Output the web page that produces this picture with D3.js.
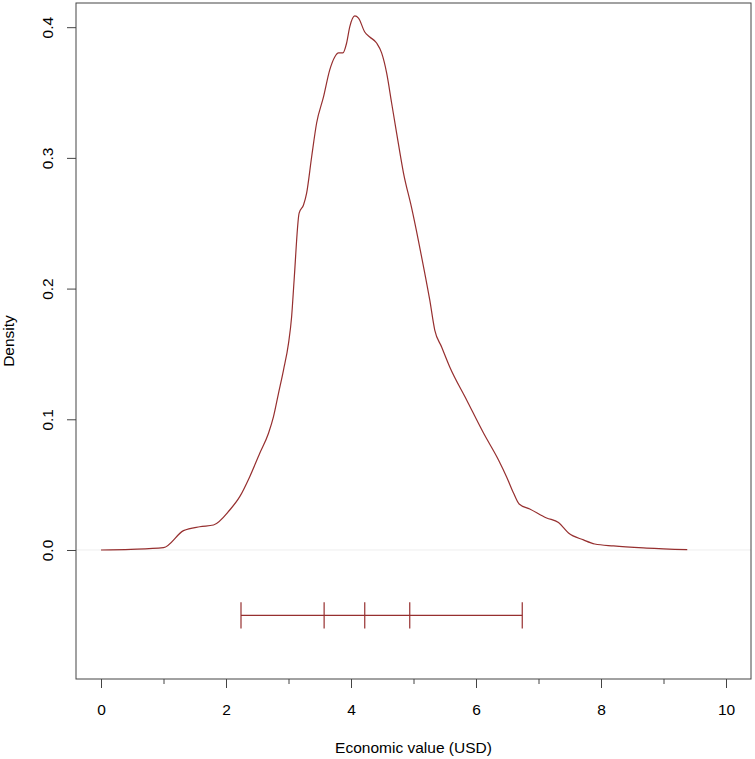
<!DOCTYPE html>
<html>
<head>
<meta charset="utf-8">
<script src="https://cdn.jsdelivr.net/npm/d3@7"></script>
<style>
  html, body { margin: 0; padding: 0; background: #fff; }
  svg { display: block; font-family: "Liberation Sans", Arial, Helvetica, sans-serif; }
</style>
</head>
<body>
<div id="chart"></div>
<script>
// Density curve of economic value
const densityX = [0, 0.48, 1.0, 1.32, 1.58, 1.80, 2.06, 2.22, 2.38, 2.54, 2.68, 2.76, 2.84, 2.92, 3.00, 3.05, 3.09,
  3.17, 3.24, 3.29, 3.37, 3.45, 3.56, 3.66, 3.74, 3.80, 3.87, 3.93, 3.98, 4.06, 4.12, 4.22, 4.30, 4.41, 4.49,
  4.57, 4.65, 4.73, 4.84, 4.97, 5.08, 5.18, 5.26, 5.34, 5.45, 5.58, 5.85, 6.12, 6.36, 6.49, 6.60, 6.69, 6.86,
  7.13, 7.32, 7.48, 7.72, 7.90, 8.20, 8.73, 9.38];
const densityY = [0, 0.0005, 0.0018, 0.0148, 0.0178, 0.0191, 0.0306, 0.0408, 0.0561, 0.0740, 0.0893, 0.1020, 0.1199,
  0.1377, 0.1581, 0.1785, 0.2066, 0.2578, 0.2640, 0.2731, 0.3007, 0.3267, 0.3466, 0.3673, 0.3772, 0.3803, 0.3803,
  0.3879, 0.4002, 0.4086, 0.4070, 0.3963, 0.3925, 0.3879, 0.3803, 0.3650, 0.3420, 0.3190, 0.2884, 0.2617, 0.2364,
  0.2119, 0.1913, 0.1683, 0.1553, 0.1400, 0.1148, 0.0895, 0.0689, 0.0559, 0.0436, 0.0352, 0.0314, 0.0245, 0.0210,
  0.0130, 0.0077, 0.0046, 0.0031, 0.0015, 0.0003];

// interval marks drawn below the curve (min, q1, median, q3, max)
const intervalMarks = [2.24, 3.57, 4.22, 4.94, 6.74];
const intervalLevel = -0.05;
const intervalHalf = 0.01;

const xMajorTicks = [0, 2, 4, 6, 8, 10];
const xMinorTicks = [1, 3, 5, 7, 9];
const yTicks = [0, 0.1, 0.2, 0.3, 0.4];

const xLabel = "Economic value (USD)";
const yLabel = "Density";

const width = 755, height = 759;
const box = { left: 76, right: 751, top: 3, bottom: 679 };
const lineColor = "#962f2f";

const svg = d3.select("#chart").append("svg")
    .attr("width", width)
    .attr("height", height);

const x = d3.scaleLinear().domain([-0.4, 10.4]).range([box.left, box.right]);
const y = d3.scaleLinear().domain([-0.0987, 0.4185]).range([box.bottom, box.top]);

// faint zero line
svg.append("line")
    .attr("x1", box.left).attr("x2", box.right)
    .attr("y1", y(0)).attr("y2", y(0))
    .attr("stroke", "#eeeeee").attr("stroke-width", 1);

// density curve
const pts = densityX.map((d, i) => [d, densityY[i]]);
svg.append("path")
    .datum(pts)
    .attr("fill", "none")
    .attr("stroke", lineColor)
    .attr("stroke-width", 1.2)
    .attr("d", d3.line().x(d => x(d[0])).y(d => y(d[1])).curve(d3.curveMonotoneX));

// interval bar
svg.append("line")
    .attr("x1", x(d3.min(intervalMarks))).attr("x2", x(d3.max(intervalMarks)))
    .attr("y1", y(intervalLevel)).attr("y2", y(intervalLevel))
    .attr("stroke", lineColor).attr("stroke-width", 1.2);
svg.append("g").selectAll("line")
    .data(intervalMarks)
    .join("line")
    .attr("x1", d => x(d)).attr("x2", d => x(d))
    .attr("y1", y(intervalLevel - intervalHalf)).attr("y2", y(intervalLevel + intervalHalf))
    .attr("stroke", lineColor).attr("stroke-width", 1.2);

// frame
svg.append("rect")
    .attr("x", box.left).attr("y", box.top)
    .attr("width", box.right - box.left).attr("height", box.bottom - box.top)
    .attr("fill", "none").attr("stroke", "#444").attr("stroke-width", 1);

// axes
const styleAxis = g => {
    g.select(".domain").remove();
    g.selectAll(".tick line").attr("stroke", "#444");
    g.selectAll(".tick text").attr("fill", "#000").style("font-size", "15.5px")
        .style("font-family", '"Liberation Sans", Arial, sans-serif');
};

svg.append("g")
    .attr("transform", `translate(0,${box.bottom})`)
    .call(d3.axisBottom(x).tickValues(xMajorTicks).tickSize(9).tickPadding(16).tickFormat(d3.format("d")))
    .call(styleAxis);

svg.append("g")
    .attr("transform", `translate(0,${box.bottom})`)
    .call(d3.axisBottom(x).tickValues(xMinorTicks).tickSize(5).tickFormat(""))
    .call(styleAxis);

const yAxis = svg.append("g")
    .attr("transform", `translate(${box.left},0)`)
    .call(d3.axisLeft(y).tickValues(yTicks).tickSize(9).tickFormat(d3.format(".1f")))
    .call(styleAxis);

yAxis.selectAll(".tick text")
    .attr("x", null).attr("dy", null)
    .attr("text-anchor", "middle")
    .attr("transform", "translate(-23,0) rotate(-90)");

// axis titles
svg.append("text")
    .attr("x", (box.left + box.right) / 2)
    .attr("y", 753)
    .attr("text-anchor", "middle")
    .style("font-size", "15.5px")
    .text(xLabel);

svg.append("text")
    .attr("transform", `translate(14,${(box.top + box.bottom) / 2}) rotate(-90)`)
    .attr("text-anchor", "middle")
    .style("font-size", "15.5px")
    .text(yLabel);
</script>
</body>
</html>
